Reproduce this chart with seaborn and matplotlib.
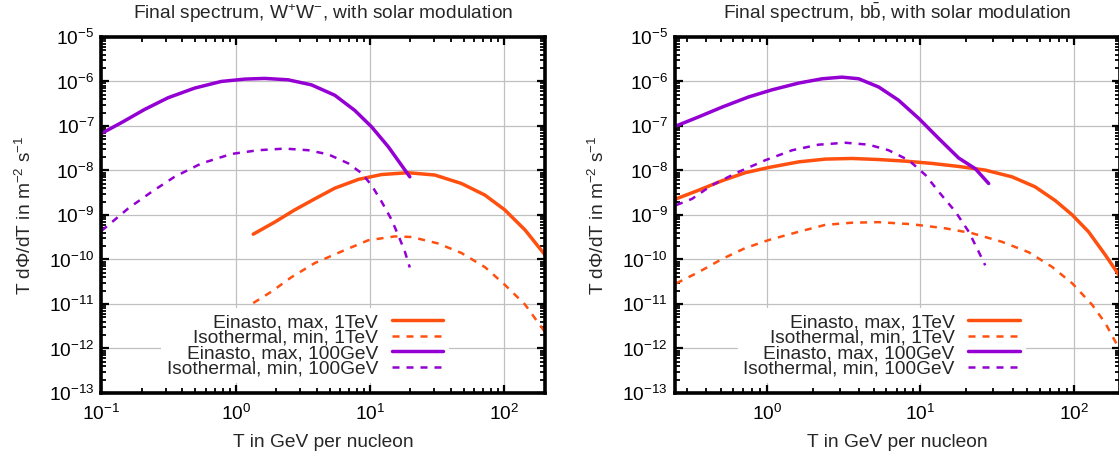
import numpy as np
import pandas as pd
import matplotlib
matplotlib.use("Agg")
import matplotlib.pyplot as plt
import seaborn as sns
from matplotlib.ticker import LogLocator, NullFormatter

# Values (T in GeV/nucleon, T dPhi/dT in m^-2 s^-1)
# left panel: W+W-
ww_ein_1tev_T = [1.35, 1.95, 2.75, 3.88, 5.47, 8.2, 12.2, 19.2, 30.4, 48, 71.8, 101, 143, 200]
ww_ein_1tev_F = [3.7e-10, 6.9e-10, 1.3e-9, 2.3e-9, 4.0e-9, 6.3e-9, 8.1e-9, 8.9e-9, 7.9e-9, 5.1e-9,
                 2.8e-9, 1.3e-9, 4.6e-10, 1.3e-10]

ww_iso_1tev_T = [1.35, 1.85, 2.6, 3.88, 6.1, 9.7, 15.3, 20.4, 32, 48, 72, 101, 143, 200]
ww_iso_1tev_F = [1.05e-11, 1.9e-11, 4.0e-11, 8.3e-11, 1.5e-10, 2.7e-10, 3.3e-10, 3.2e-10, 2.3e-10,
                 1.4e-10, 6.7e-11, 2.7e-11, 9.7e-12, 2.4e-12]

ww_ein_100_T = [0.1, 0.141, 0.21, 0.313, 0.495, 0.78, 1.17, 1.64, 2.45, 3.66, 5.47, 7.7, 10.3, 13.7, 19.8]
ww_ein_100_F = [6.8e-8, 1.19e-7, 2.36e-7, 4.3e-7, 7.1e-7, 1.0e-6, 1.13e-6, 1.17e-6, 1.09e-6, 8.4e-7,
                4.9e-7, 2.24e-7, 9.5e-8, 3.4e-8, 7.2e-9]

ww_iso_100_T = [0.1, 0.158, 0.236, 0.35, 0.555, 0.93, 1.47, 2.32, 3.47, 4.89, 6.9, 8.7, 10.3, 12.2,
                14.5, 16.6, 18.2, 19.8]
ww_iso_100_F = [4.4e-10, 1.4e-9, 3.3e-9, 7.2e-9, 1.44e-8, 2.35e-8, 2.85e-8, 3.1e-8, 2.85e-8, 2.3e-8,
                1.44e-8, 8.6e-9, 4.6e-9, 2.0e-9, 7.8e-10, 3.0e-10, 1.5e-10, 6.6e-11]

# right panel: b bbar
bb_ein_1tev_T = [0.255, 0.358, 0.51, 0.72, 1.03, 1.61, 2.4, 3.58, 5.35, 8.0, 11.9, 17.8, 26.5, 39.6,
                 56, 76, 98, 125, 161, 200]
bb_ein_1tev_F = [2.3e-9, 3.6e-9, 5.9e-9, 8.9e-9, 1.17e-8, 1.56e-8, 1.8e-8, 1.86e-8, 1.76e-8, 1.62e-8,
                 1.44e-8, 1.23e-8, 1.02e-8, 7.2e-9, 4.3e-9, 2.1e-9, 1.0e-9, 4.2e-10, 1.26e-10, 4.2e-11]

bb_iso_1tev_T = [0.255, 0.358, 0.51, 0.72, 1.03, 1.61, 2.4, 3.58, 5.35, 8.8, 14.6, 21.7, 34, 51, 72,
                 98, 132, 161, 195]
bb_iso_1tev_F = [2.9e-11, 5.2e-11, 1.03e-10, 1.8e-10, 2.75e-10, 4.2e-10, 6.0e-10, 6.7e-10, 6.9e-10,
                 6.2e-10, 5.0e-10, 3.9e-10, 2.5e-10, 1.45e-10, 6.9e-11, 2.9e-11, 9.6e-12, 3.7e-12, 1.1e-12]

bb_ein_100_T = [0.255, 0.358, 0.51, 0.76, 1.08, 1.61, 2.29, 3.08, 3.96, 5.35, 7.2, 9.8, 13.2, 17.8,
                22.8, 27.9]
bb_ein_100_F = [1.0e-7, 1.6e-7, 2.66e-7, 4.5e-7, 6.5e-7, 9.2e-7, 1.15e-6, 1.25e-6, 1.15e-6, 7.5e-7,
                3.8e-7, 1.46e-7, 5.2e-8, 1.9e-8, 1.1e-8, 5.1e-9]

bb_iso_100_T = [0.255, 0.324, 0.438, 0.653, 0.975, 1.46, 2.17, 3.24, 4.6, 6.2, 8.4, 10.8, 13.2, 16.9,
                20.7, 24, 26.5]
bb_iso_100_F = [1.66e-9, 2.3e-9, 4.7e-9, 9.3e-9, 1.7e-8, 2.85e-8, 3.8e-8, 4.2e-8, 3.8e-8, 2.85e-8,
                1.7e-8, 7.9e-9, 3.3e-9, 1.2e-9, 4.2e-10, 1.5e-10, 7.4e-11]

labels = ["Einasto, max, 1TeV", "Isothermal, min, 1TeV",
          "Einasto, max, 100GeV", "Isothermal, min, 100GeV"]
titles = ["Final spectrum, W$^{+}$W$^{-}$, with solar modulation",
          r"Final spectrum, b$\bar{\mathrm{b}}$, with solar modulation"]

orange = "#ff5010"
purple = "#9400d3"
fs = 13.8

sns.set_theme(style="white")
plt.rcParams["font.family"] = ["Liberation Sans", "DejaVu Sans"]
plt.rcParams["mathtext.default"] = "regular"
plt.rcParams["mathtext.fontset"] = "custom"
plt.rcParams["mathtext.rm"] = "Liberation Sans"

fig = plt.figure(figsize=(11.19, 4.63), dpi=100)
ax1 = fig.add_axes([0.0907, 0.1512, 0.396, 0.769])
ax2 = fig.add_axes([0.603, 0.1512, 0.3977, 0.769])

panels = [
    (ax1, [(ww_ein_1tev_T, ww_ein_1tev_F), (ww_iso_1tev_T, ww_iso_1tev_F),
           (ww_ein_100_T, ww_ein_100_F), (ww_iso_100_T, ww_iso_100_F)], (0.1, 200), 0.806),
    (ax2, [(bb_ein_1tev_T, bb_ein_1tev_F), (bb_iso_1tev_T, bb_iso_1tev_F),
           (bb_ein_100_T, bb_ein_100_F), (bb_iso_100_T, bb_iso_100_F)], (0.25, 200), 0.81),
]
colors = [orange, orange, purple, purple]
styles = ["-", (0, (2.8, 2.8)), "-", (0, (2.8, 2.8))]
widths = [2.5, 1.8, 2.5, 1.8]

for i, (ax, series, xlim, legx) in enumerate(panels):
    for (T, F), c, ls, lw, lab in zip(series, colors, styles, widths, labels):
        df = pd.DataFrame({"T": T, "F": F})
        sns.lineplot(data=df, x="T", y="F", ax=ax, color=c, linewidth=lw,
                     linestyle=ls, label=lab, sort=False)
    ax.set_xscale("log")
    ax.set_yscale("log")
    ax.set_xlim(*xlim)
    ax.set_ylim(1e-13, 1e-5)
    for axis in (ax.xaxis, ax.yaxis):
        axis.set_major_locator(LogLocator(base=10, numticks=20))
        axis.set_minor_locator(LogLocator(base=10, subs=np.arange(2, 10), numticks=20))
        axis.set_minor_formatter(NullFormatter())
    ax.grid(True, which="major", color="#c0c0c0", linewidth=0.9)
    ax.tick_params(which="both", direction="in", top=True, right=True,
                   bottom=True, left=True, labelsize=fs, colors="black")
    ax.tick_params(which="major", length=6, width=1.6)
    ax.tick_params(which="minor", length=3.5, width=1.3)
    ax.tick_params(axis="x", which="major", pad=8)
    ax.tick_params(axis="y", which="major", pad=5)
    for sp in ax.spines.values():
        sp.set_linewidth(2.6)
        sp.set_color("black")
    ax.set_title(titles[i], fontsize=fs, pad=13)
    ax.set_xlabel("T in GeV per nucleon", fontsize=fs, labelpad=7)
    ax.set_ylabel("T d$\\Phi$/dT in m$^{-2}$ s$^{-1}$", fontsize=fs, labelpad=10)
    ax.legend(loc="lower right", bbox_to_anchor=(legx, 0.0), markerfirst=False,
              frameon=True, facecolor="white", edgecolor="none", framealpha=1,
              fontsize=fs, handlelength=2.7, labelspacing=-0.1,
              borderpad=0.3, handletextpad=0.7, borderaxespad=0.5)

fig.savefig("out.png", dpi=100)
